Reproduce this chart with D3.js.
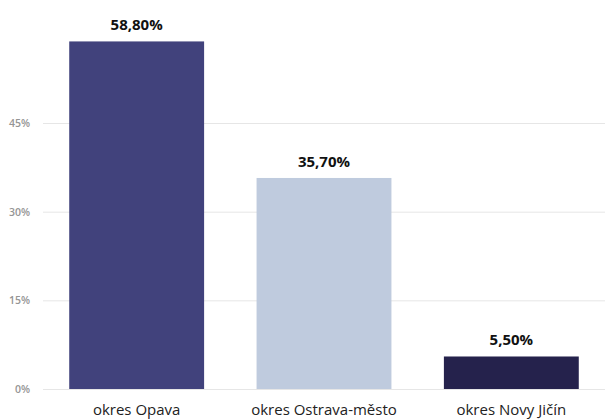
<!DOCTYPE html>
<html><head><meta charset="utf-8">
<script src="https://cdn.jsdelivr.net/npm/d3@7"></script>
<style>body{margin:0;background:#fff}svg{display:block}</style>
</head><body>
<svg id="c" width="605" height="419"></svg>
<script>
const categories = ["okres Opava", "okres Ostrava-město", "okres Novy Jičín"];
const values = [58.8, 35.7, 5.5];
const valueLabels = ["58,80%", "35,70%", "5,50%"];
const colors = ["#41427c", "#bfcbde", "#25224c"];
const yTicks = [0, 15, 30, 45];

const svg = d3.select("#c");
const x = d3.scaleBand().domain(categories).range([43, 605]).paddingInner(0.28).paddingOuter(0.14);
const y = d3.scaleLinear().domain([0, 45]).range([389, 123]);

const yAxis = d3.axisLeft(y).tickValues(yTicks).tickSize(-562).tickFormat(d => d + "%").tickPadding(13);
const g = svg.append("g").attr("transform", "translate(43,0)").call(yAxis);
g.select(".domain").remove();
g.selectAll(".tick line").attr("stroke", "#e6e6e6").attr("stroke-width", 1);
g.selectAll(".tick text").attr("fill", "#959595").style("font-family", "Open Sans, sans-serif").style("font-weight", "600").style("font-size", "10.5px");

svg.selectAll("rect.bar").data(categories).enter().append("rect")
  .attr("class", "bar")
  .attr("x", d => x(d)).attr("width", x.bandwidth())
  .attr("y", (d, i) => y(values[i])).attr("height", (d, i) => y(0) - y(values[i]))
  .attr("fill", (d, i) => colors[i]);

svg.selectAll("text.val").data(categories).enter().append("text")
  .attr("class", "val")
  .attr("x", d => x(d) + x.bandwidth() / 2)
  .attr("y", (d, i) => y(values[i]) - 11)
  .attr("text-anchor", "middle")
  .style("font-family", "Open Sans, sans-serif").style("font-weight", "bold").style("font-size", "15px")
  .attr("fill", "#111")
  .text((d, i) => valueLabels[i]);

svg.selectAll("text.cat").data(categories).enter().append("text")
  .attr("class", "cat")
  .attr("x", d => x(d) + x.bandwidth() / 2)
  .attr("y", 415)
  .attr("text-anchor", "middle")
  .style("font-family", "Open Sans, sans-serif").style("font-size", "15px")
  .attr("fill", "#222")
  .text(d => d);
</script>
</body></html>
